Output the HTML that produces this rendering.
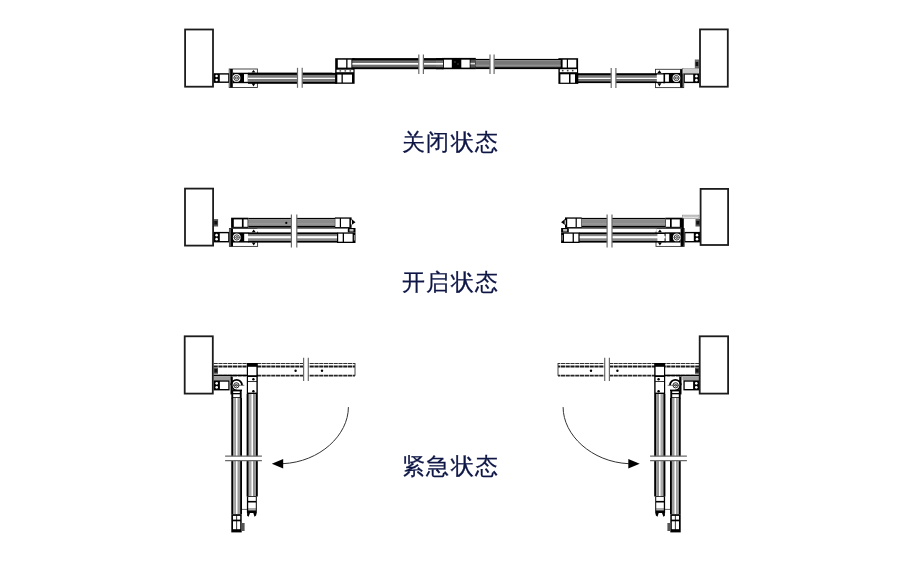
<!DOCTYPE html>
<html><head><meta charset="utf-8"><style>
html,body{margin:0;padding:0;background:#fff;width:900px;height:563px;overflow:hidden}
svg{position:absolute;left:0;top:0}
.t{position:absolute;font-family:"Liberation Sans",sans-serif;font-size:23px;letter-spacing:1.4px;color:#0e1646;white-space:nowrap;line-height:1;will-change:transform;-webkit-text-stroke:0.25px #0e1646}
</style></head><body>
<svg width="900" height="563" viewBox="0 0 900 563">
<rect x="213.50" y="73.20" width="16.00" height="9.70" fill="#000" />
<rect x="219.80" y="74.60" width="8.40" height="6.90" fill="#fff" />
<circle cx="216.60" cy="76.05" r="1.30" fill="#fff" stroke="none" stroke-width="1"/>
<circle cx="216.60" cy="80.05" r="1.30" fill="#fff" stroke="none" stroke-width="1"/>
<rect x="229.20" y="69.00" width="28.20" height="18.50" fill="#fff" stroke="#333" stroke-width="0.9" />
<rect x="230.10" y="69.00" width="2.70" height="18.50" fill="#000" />
<rect x="232.80" y="72.60" width="15.40" height="10.70" fill="#000" />
<rect x="233.60" y="70.30" width="19.60" height="2.00" fill="#fff" />
<rect x="233.60" y="83.60" width="19.60" height="2.90" fill="#fff" />
<circle cx="236.50" cy="77.95" r="3.90" fill="#fff" stroke="none" stroke-width="1"/>
<circle cx="236.50" cy="77.95" r="2.60" fill="none" stroke="#000" stroke-width="0.75"/>
<circle cx="236.50" cy="77.95" r="1.10" fill="none" stroke="#000" stroke-width="0.6"/>
<line x1="231.70" y1="77.95" x2="241.30" y2="77.95" stroke="#333" stroke-width="0.4" />
<rect x="244.00" y="74.10" width="3.80" height="7.70" fill="#fff" />
<path d="M251.5 72.6 L253.5 70.0 L255.5 72.6 Z" fill="#000" stroke="none" stroke-width="1" />
<path d="M251.5 83.3 L253.5 86.5 L255.5 83.3 Z" fill="#000" stroke="none" stroke-width="1" />
<rect x="248.00" y="72.60" width="89.00" height="11.20" fill="#000" />
<rect x="248.00" y="74.84" width="89.00" height="2.69" fill="#7c7c7c" />
<rect x="248.00" y="77.53" width="89.00" height="1.90" fill="#fff" />
<rect x="248.00" y="79.43" width="89.00" height="2.46" fill="#7c7c7c" />
<rect x="297.50" y="69.80" width="4.70" height="16.00" fill="#fff" />
<line x1="297.50" y1="67.80" x2="297.50" y2="87.80" stroke="#6a6a6a" stroke-width="1.2" />
<line x1="302.20" y1="67.80" x2="302.20" y2="87.80" stroke="#6a6a6a" stroke-width="1.2" />
<rect x="335.10" y="58.20" width="19.50" height="25.60" fill="#000" />
<rect x="337.80" y="59.70" width="8.40" height="7.90" fill="#fff" />
<rect x="347.50" y="59.70" width="3.90" height="7.90" fill="#fff" />
<rect x="336.60" y="69.70" width="16.80" height="2.50" fill="#fff" />
<rect x="339.50" y="70.20" width="1.60" height="1.40" fill="#444" />
<rect x="344.50" y="70.20" width="1.60" height="1.40" fill="#444" />
<rect x="349.50" y="70.20" width="1.60" height="1.40" fill="#444" />
<rect x="337.30" y="74.60" width="4.20" height="7.90" fill="#fff" />
<rect x="342.80" y="74.60" width="9.20" height="7.90" fill="#fff" />
<rect x="332.50" y="58.20" width="2.60" height="14.40" fill="#fff" />
<rect x="352.30" y="58.20" width="0.00" height="0.00" fill="#fff" />
<rect x="352.30" y="58.10" width="91.70" height="11.10" fill="#000" />
<rect x="352.30" y="60.32" width="91.70" height="2.66" fill="#6e6e6e" />
<rect x="352.30" y="62.98" width="91.70" height="1.89" fill="#fff" />
<rect x="352.30" y="64.87" width="91.70" height="2.44" fill="#6e6e6e" />
<rect x="418.80" y="56.40" width="4.60" height="15.60" fill="#fff" />
<line x1="418.80" y1="54.40" x2="418.80" y2="74.00" stroke="#6a6a6a" stroke-width="1.2" />
<line x1="423.40" y1="54.40" x2="423.40" y2="74.00" stroke="#6a6a6a" stroke-width="1.2" />
<rect x="442.20" y="57.90" width="33.60" height="11.30" fill="#000" />
<rect x="436.00" y="58.10" width="7.00" height="11.10" fill="#000" />
<rect x="436.00" y="60.32" width="7.00" height="2.66" fill="#777" />
<rect x="436.00" y="62.98" width="7.00" height="1.89" fill="#fff" />
<rect x="436.00" y="64.87" width="7.00" height="2.44" fill="#777" />
<rect x="443.90" y="59.70" width="7.90" height="7.90" fill="#fff" />
<rect x="461.30" y="59.70" width="8.40" height="7.90" fill="#fff" />
<rect x="454.50" y="61.50" width="1.00" height="1.00" fill="#888" />
<rect x="457.50" y="63.50" width="1.00" height="1.00" fill="#888" />
<rect x="470.50" y="59.70" width="4.50" height="7.90" fill="#555" />
<rect x="470.50" y="62.80" width="4.50" height="1.60" fill="#ddd" />
<g transform="matrix(-1,0,0,1,913,0)">
<rect x="213.50" y="73.20" width="16.00" height="9.90" fill="#000" />
<rect x="219.80" y="74.60" width="8.40" height="7.10" fill="#fff" />
<circle cx="216.60" cy="76.15" r="1.30" fill="#fff" stroke="none" stroke-width="1"/>
<circle cx="216.60" cy="80.15" r="1.30" fill="#fff" stroke="none" stroke-width="1"/>
<rect x="229.30" y="69.30" width="28.20" height="18.30" fill="#fff" stroke="#333" stroke-width="0.9" />
<rect x="230.20" y="69.30" width="2.70" height="18.30" fill="#000" />
<rect x="232.90" y="72.90" width="15.40" height="10.30" fill="#000" />
<rect x="233.70" y="70.60" width="19.60" height="2.00" fill="#fff" />
<rect x="233.70" y="83.50" width="19.60" height="3.10" fill="#fff" />
<circle cx="236.60" cy="78.05" r="3.90" fill="#fff" stroke="none" stroke-width="1"/>
<circle cx="236.60" cy="78.05" r="2.60" fill="none" stroke="#000" stroke-width="0.75"/>
<circle cx="236.60" cy="78.05" r="1.10" fill="none" stroke="#000" stroke-width="0.6"/>
<line x1="231.80" y1="78.05" x2="241.40" y2="78.05" stroke="#333" stroke-width="0.4" />
<rect x="244.10" y="74.40" width="3.80" height="7.30" fill="#fff" />
<path d="M251.60000000000002 72.9 L253.60000000000002 70.3 L255.60000000000002 72.9 Z" fill="#000" stroke="none" stroke-width="1" />
<path d="M251.60000000000002 83.2 L253.60000000000002 86.6 L255.60000000000002 83.2 Z" fill="#000" stroke="none" stroke-width="1" />
<rect x="248.00" y="73.20" width="89.00" height="9.90" fill="#000" />
<rect x="248.00" y="75.18" width="89.00" height="2.38" fill="#7c7c7c" />
<rect x="248.00" y="77.56" width="89.00" height="1.68" fill="#fff" />
<rect x="248.00" y="79.24" width="89.00" height="2.18" fill="#7c7c7c" />
<rect x="297.10" y="70.00" width="4.70" height="16.00" fill="#fff" />
<line x1="297.10" y1="68.00" x2="297.10" y2="88.00" stroke="#6a6a6a" stroke-width="1.2" />
<line x1="301.80" y1="68.00" x2="301.80" y2="88.00" stroke="#6a6a6a" stroke-width="1.2" />
<rect x="334.70" y="58.20" width="19.90" height="25.70" fill="#000" />
<rect x="336.70" y="59.70" width="8.30" height="7.80" fill="#fff" />
<rect x="346.20" y="59.70" width="4.20" height="7.80" fill="#fff" />
<rect x="336.00" y="69.20" width="17.20" height="3.00" fill="#fff" />
<rect x="339.50" y="69.80" width="1.60" height="1.60" fill="#444" />
<rect x="344.50" y="69.80" width="1.60" height="1.60" fill="#444" />
<rect x="349.50" y="69.80" width="1.60" height="1.60" fill="#444" />
<rect x="338.00" y="74.30" width="4.50" height="8.40" fill="#fff" />
<rect x="344.00" y="74.30" width="8.60" height="8.40" fill="#fff" />
<rect x="332.50" y="58.20" width="2.20" height="14.50" fill="#fff" />
<rect x="352.30" y="58.90" width="85.20" height="10.20" fill="#000" />
<rect x="352.30" y="60.33" width="85.20" height="6.94" fill="#777" />
<rect x="352.30" y="60.33" width="85.20" height="0.71" fill="#aaa" />
<rect x="352.30" y="64.82" width="85.20" height="0.71" fill="#a8a8a8" />
<rect x="418.90" y="56.40" width="4.10" height="15.60" fill="#fff" />
<line x1="418.90" y1="54.40" x2="418.90" y2="74.00" stroke="#6a6a6a" stroke-width="1.2" />
<line x1="423.00" y1="54.40" x2="423.00" y2="74.00" stroke="#6a6a6a" stroke-width="1.2" />
</g>
<rect x="682.70" y="68.70" width="16.60" height="4.50" fill="#e2e2e2" stroke="#777" stroke-width="0.5" />
<line x1="683.50" y1="69.80" x2="698.50" y2="69.80" stroke="#999" stroke-width="0.4" />
<line x1="683.50" y1="71.00" x2="698.50" y2="71.00" stroke="#999" stroke-width="0.4" />
<line x1="683.50" y1="72.20" x2="698.50" y2="72.20" stroke="#999" stroke-width="0.4" />
<rect x="663.00" y="73.00" width="2.00" height="10.20" fill="#000" />
<rect x="656.80" y="74.50" width="6.70" height="7.20" fill="#fff" />
<rect x="694.80" y="59.50" width="4.20" height="8.80" fill="#666" />
<rect x="695.60" y="62.00" width="2.60" height="4.00" fill="#111" />
<rect x="213.50" y="219.10" width="4.60" height="7.40" fill="#555" />
<rect x="214.30" y="221.00" width="3.00" height="3.50" fill="#111" />
<rect x="213.50" y="231.90" width="16.00" height="10.50" fill="#000" />
<rect x="219.80" y="233.30" width="8.40" height="7.70" fill="#fff" />
<circle cx="216.60" cy="235.15" r="1.30" fill="#fff" stroke="none" stroke-width="1"/>
<circle cx="216.60" cy="239.15" r="1.30" fill="#fff" stroke="none" stroke-width="1"/>
<rect x="229.40" y="228.50" width="28.20" height="17.90" fill="#fff" stroke="#333" stroke-width="0.9" />
<rect x="230.30" y="228.50" width="2.70" height="17.90" fill="#000" />
<rect x="233.00" y="232.30" width="15.40" height="10.30" fill="#000" />
<rect x="233.80" y="229.80" width="19.60" height="2.20" fill="#fff" />
<rect x="233.80" y="242.90" width="19.60" height="2.50" fill="#fff" />
<circle cx="236.80" cy="237.45" r="3.90" fill="#fff" stroke="none" stroke-width="1"/>
<circle cx="236.80" cy="237.45" r="2.60" fill="none" stroke="#000" stroke-width="0.75"/>
<circle cx="236.80" cy="237.45" r="1.10" fill="none" stroke="#000" stroke-width="0.6"/>
<line x1="232.00" y1="237.45" x2="241.60" y2="237.45" stroke="#333" stroke-width="0.4" />
<rect x="244.20" y="233.80" width="3.80" height="7.30" fill="#fff" />
<path d="M251.70000000000002 232.3 L253.70000000000002 229.5 L255.70000000000002 232.3 Z" fill="#000" stroke="none" stroke-width="1" />
<path d="M251.70000000000002 242.6 L253.70000000000002 245.4 L255.70000000000002 242.6 Z" fill="#000" stroke="none" stroke-width="1" />
<rect x="248.00" y="232.40" width="89.50" height="10.20" fill="#000" />
<rect x="248.00" y="234.13" width="89.50" height="1.94" fill="#8a8a8a" />
<rect x="248.00" y="236.07" width="89.50" height="2.65" fill="#fff" />
<rect x="248.00" y="238.72" width="89.50" height="2.24" fill="#8a8a8a" />
<rect x="337.00" y="232.40" width="18.50" height="10.60" fill="#000" />
<rect x="338.20" y="233.70" width="4.50" height="8.00" fill="#fff" />
<rect x="344.00" y="233.70" width="8.60" height="8.00" fill="#fff" />
<rect x="353.90" y="235.00" width="1.00" height="5.50" fill="#999" />
<rect x="257.00" y="228.20" width="90.80" height="3.40" fill="#fff" />
<line x1="257.00" y1="228.40" x2="347.80" y2="228.40" stroke="#222" stroke-width="0.7" />
<rect x="347.80" y="228.00" width="7.70" height="4.40" fill="#000" />
<rect x="349.50" y="229.00" width="4.00" height="2.50" fill="#bbb" />
<rect x="231.10" y="217.70" width="17.20" height="10.20" fill="#000" />
<rect x="233.80" y="219.40" width="8.10" height="7.40" fill="#fff" />
<rect x="243.60" y="219.40" width="4.00" height="7.40" fill="#fff" />
<rect x="248.30" y="217.90" width="87.20" height="9.80" fill="#000" />
<rect x="248.30" y="219.27" width="87.20" height="6.66" fill="#8c8c8c" />
<rect x="248.30" y="219.27" width="87.20" height="0.69" fill="#aaa" />
<rect x="248.30" y="223.58" width="87.20" height="0.69" fill="#a8a8a8" />
<circle cx="286.30" cy="222.90" r="1.10" fill="#000" stroke="none" stroke-width="1"/>
<rect x="334.90" y="217.40" width="16.70" height="10.50" fill="#000" />
<rect x="335.30" y="218.70" width="4.50" height="8.30" fill="#fff" />
<rect x="341.00" y="218.70" width="8.40" height="8.30" fill="#fff" />
<path d="M351.6 219.0 L355.5 222.2 L351.6 225.0 Z" fill="#000" stroke="none" stroke-width="1" />
<rect x="350.90" y="220.20" width="1.00" height="4.30" fill="#fff" />
<rect x="291.40" y="216.60" width="5.40" height="28.80" fill="#fff" />
<line x1="291.40" y1="214.60" x2="291.40" y2="247.40" stroke="#6a6a6a" stroke-width="1.2" />
<line x1="296.80" y1="214.60" x2="296.80" y2="247.40" stroke="#6a6a6a" stroke-width="1.2" />
<g transform="matrix(-1,0,0,1,913.6,0)">
<rect x="213.50" y="219.10" width="4.60" height="7.40" fill="#555" />
<rect x="214.30" y="221.00" width="3.00" height="3.50" fill="#111" />
<rect x="213.50" y="231.90" width="16.00" height="10.50" fill="#000" />
<rect x="219.80" y="233.30" width="8.40" height="7.70" fill="#fff" />
<circle cx="216.60" cy="235.15" r="1.30" fill="#fff" stroke="none" stroke-width="1"/>
<circle cx="216.60" cy="239.15" r="1.30" fill="#fff" stroke="none" stroke-width="1"/>
<rect x="229.40" y="228.50" width="28.20" height="17.90" fill="#fff" stroke="#333" stroke-width="0.9" />
<rect x="230.30" y="228.50" width="2.70" height="17.90" fill="#000" />
<rect x="233.00" y="232.30" width="15.40" height="10.30" fill="#000" />
<rect x="233.80" y="229.80" width="19.60" height="2.20" fill="#fff" />
<rect x="233.80" y="242.90" width="19.60" height="2.50" fill="#fff" />
<circle cx="236.80" cy="237.45" r="3.90" fill="#fff" stroke="none" stroke-width="1"/>
<circle cx="236.80" cy="237.45" r="2.60" fill="none" stroke="#000" stroke-width="0.75"/>
<circle cx="236.80" cy="237.45" r="1.10" fill="none" stroke="#000" stroke-width="0.6"/>
<line x1="232.00" y1="237.45" x2="241.60" y2="237.45" stroke="#333" stroke-width="0.4" />
<rect x="244.20" y="233.80" width="3.80" height="7.30" fill="#fff" />
<path d="M251.70000000000002 232.3 L253.70000000000002 229.5 L255.70000000000002 232.3 Z" fill="#000" stroke="none" stroke-width="1" />
<path d="M251.70000000000002 242.6 L253.70000000000002 245.4 L255.70000000000002 242.6 Z" fill="#000" stroke="none" stroke-width="1" />
<rect x="248.00" y="232.40" width="86.50" height="10.20" fill="#000" />
<rect x="248.00" y="234.13" width="86.50" height="1.94" fill="#8a8a8a" />
<rect x="248.00" y="236.07" width="86.50" height="2.65" fill="#fff" />
<rect x="248.00" y="238.72" width="86.50" height="2.24" fill="#8a8a8a" />
<rect x="334.00" y="232.40" width="18.50" height="10.60" fill="#000" />
<rect x="335.20" y="233.70" width="4.50" height="8.00" fill="#fff" />
<rect x="341.00" y="233.70" width="8.60" height="8.00" fill="#fff" />
<rect x="350.90" y="235.00" width="1.00" height="5.50" fill="#999" />
<rect x="257.00" y="228.20" width="87.80" height="3.40" fill="#fff" />
<line x1="257.00" y1="228.40" x2="344.80" y2="228.40" stroke="#222" stroke-width="0.7" />
<rect x="344.80" y="228.00" width="7.70" height="4.40" fill="#000" />
<rect x="346.50" y="229.00" width="4.00" height="2.50" fill="#bbb" />
<rect x="231.10" y="217.70" width="17.20" height="10.20" fill="#000" />
<rect x="233.80" y="219.40" width="8.10" height="7.40" fill="#fff" />
<rect x="243.60" y="219.40" width="4.00" height="7.40" fill="#fff" />
<rect x="248.30" y="217.90" width="84.20" height="9.80" fill="#000" />
<rect x="248.30" y="219.27" width="84.20" height="6.66" fill="#8c8c8c" />
<rect x="248.30" y="219.27" width="84.20" height="0.69" fill="#aaa" />
<rect x="248.30" y="223.58" width="84.20" height="0.69" fill="#a8a8a8" />
<rect x="249.50" y="234.00" width="6.70" height="7.00" fill="#fff" />
<rect x="331.90" y="217.40" width="16.70" height="10.50" fill="#000" />
<rect x="332.30" y="218.70" width="4.50" height="8.30" fill="#fff" />
<rect x="338.00" y="218.70" width="8.40" height="8.30" fill="#fff" />
<path d="M348.6 219.0 L352.5 222.2 L348.6 225.0 Z" fill="#000" stroke="none" stroke-width="1" />
<rect x="347.90" y="220.20" width="1.00" height="4.30" fill="#fff" />
<rect x="301.60" y="216.60" width="4.90" height="28.80" fill="#fff" />
<line x1="301.60" y1="214.60" x2="301.60" y2="247.40" stroke="#6a6a6a" stroke-width="1.2" />
<line x1="306.50" y1="214.60" x2="306.50" y2="247.40" stroke="#6a6a6a" stroke-width="1.2" />
</g>
<rect x="682.40" y="215.10" width="16.60" height="3.30" fill="#e0e0e0" stroke="#777" stroke-width="0.5" />
<line x1="683.50" y1="216.50" x2="698.00" y2="216.50" stroke="#999" stroke-width="0.4" />
<rect x="682.00" y="218.40" width="1.80" height="27.40" fill="#000" />
<rect x="213.60" y="363.00" width="141.40" height="12.80" fill="#fff" />
<line x1="213.60" y1="363.50" x2="355.00" y2="363.50" stroke="#333" stroke-width="1.1" stroke-dasharray="4.2 0.6"/>
<line x1="213.60" y1="366.40" x2="355.00" y2="366.40" stroke="#1a1a1a" stroke-width="2.0" stroke-dasharray="4.2 0.6"/>
<line x1="213.60" y1="375.60" x2="355.00" y2="375.60" stroke="#262626" stroke-width="1.7" stroke-dasharray="4.2 0.6"/>
<line x1="213.60" y1="375.40" x2="258.00" y2="375.40" stroke="#000" stroke-width="1.3" />
<line x1="355.00" y1="363.00" x2="355.00" y2="375.80" stroke="#333" stroke-width="0.9" />
<circle cx="295.60" cy="370.80" r="1.20" fill="#000" stroke="none" stroke-width="1"/>
<circle cx="322.00" cy="370.80" r="1.20" fill="#000" stroke="none" stroke-width="1"/>
<rect x="303.60" y="359.80" width="4.70" height="19.30" fill="#fff" />
<line x1="303.60" y1="357.80" x2="303.60" y2="381.10" stroke="#6a6a6a" stroke-width="1.2" />
<line x1="308.30" y1="357.80" x2="308.30" y2="381.10" stroke="#6a6a6a" stroke-width="1.2" />
<rect x="213.60" y="367.80" width="4.40" height="6.00" fill="#555" />
<rect x="214.40" y="369.00" width="2.90" height="3.50" fill="#111" />
<rect x="213.60" y="376.00" width="16.90" height="4.30" fill="#b0b0b0" />
<line x1="213.60" y1="377.00" x2="230.50" y2="377.00" stroke="#777" stroke-width="0.4" />
<line x1="213.60" y1="378.20" x2="230.50" y2="378.20" stroke="#777" stroke-width="0.4" />
<line x1="213.60" y1="379.40" x2="230.50" y2="379.40" stroke="#777" stroke-width="0.4" />
<rect x="213.60" y="380.30" width="16.00" height="10.10" fill="#000" />
<rect x="219.90" y="381.70" width="8.40" height="7.30" fill="#fff" />
<circle cx="216.70" cy="383.35" r="1.30" fill="#fff" stroke="none" stroke-width="1"/>
<circle cx="216.70" cy="387.35" r="1.30" fill="#fff" stroke="none" stroke-width="1"/>
<g transform="translate(0,0)">
<rect x="246.80" y="363.00" width="11.00" height="31.00" fill="#000" />
<rect x="248.00" y="366.80" width="8.40" height="8.40" fill="#fff" />
<rect x="248.00" y="377.00" width="8.40" height="4.00" fill="#fff" />
<rect x="248.00" y="381.80" width="8.40" height="10.80" fill="#fff" />
<circle cx="253.40" cy="379.30" r="1.20" fill="#000" stroke="none" stroke-width="1"/>
<circle cx="253.40" cy="391.20" r="1.20" fill="#000" stroke="none" stroke-width="1"/>
<rect x="246.60" y="394.00" width="11.20" height="102.50" fill="#000" />
<rect x="248.50" y="394.00" width="2.69" height="102.50" fill="#a9a9a9" />
<rect x="251.19" y="394.00" width="2.24" height="102.50" fill="#fff" />
<rect x="253.43" y="394.00" width="2.46" height="102.50" fill="#a9a9a9" />
<rect x="254.33" y="394.00" width="0.67" height="102.50" fill="#888" />
<rect x="246.90" y="496.30" width="9.90" height="16.70" fill="#000" />
<rect x="248.20" y="497.00" width="7.60" height="3.90" fill="#fff" />
<rect x="248.20" y="502.50" width="7.60" height="5.50" fill="#fff" />
<rect x="248.20" y="508.00" width="7.60" height="2.50" fill="#aaa" />
<path d="M247.1 513 L247.1 515.8 L248.6 516.7 L250 513 L253.3 513 L254.5 516.7 L256.1 515.6 L256.7 513 Z" fill="#000" stroke="none" stroke-width="1" />
<line x1="241.70" y1="509.40" x2="247.00" y2="509.40" stroke="#222" stroke-width="0.7" />
<rect x="230.50" y="376.50" width="2.30" height="17.90" fill="#000" />
<rect x="232.80" y="389.60" width="9.20" height="1.40" fill="#000" />
<path d="M231.2 385.3 A 5.3 5.3 0 0 1 242.0 385.3" fill="none" stroke="#000" stroke-width="1.8" />
<path d="M232.6 386 A 5 5 0 0 0 237 390.6" fill="none" stroke="#000" stroke-width="1.6" />
<circle cx="236.40" cy="385.30" r="3.70" fill="#fff" stroke="none" stroke-width="1"/>
<circle cx="236.40" cy="385.30" r="2.60" fill="none" stroke="#000" stroke-width="0.85"/>
<circle cx="236.40" cy="385.30" r="1.00" fill="none" stroke="#000" stroke-width="0.7"/>
<line x1="231.50" y1="385.30" x2="244.30" y2="385.30" stroke="#222" stroke-width="0.6" />
<rect x="231.30" y="390.20" width="10.40" height="8.30" fill="#000" />
<rect x="233.20" y="391.40" width="6.60" height="1.60" fill="#fff" />
<rect x="233.20" y="394.30" width="6.60" height="2.90" fill="#fff" />
<rect x="231.30" y="398.00" width="10.70" height="116.20" fill="#000" />
<rect x="233.12" y="398.00" width="2.57" height="116.20" fill="#a9a9a9" />
<rect x="235.69" y="398.00" width="2.14" height="116.20" fill="#fff" />
<rect x="237.83" y="398.00" width="2.35" height="116.20" fill="#a9a9a9" />
<rect x="238.68" y="398.00" width="0.64" height="116.20" fill="#888" />
<rect x="231.30" y="514.20" width="10.40" height="18.20" fill="#000" />
<rect x="233.00" y="515.90" width="3.30" height="3.70" fill="#fff" />
<rect x="237.10" y="515.90" width="3.10" height="3.70" fill="#fff" />
<rect x="233.00" y="521.30" width="3.30" height="7.90" fill="#fff" />
<rect x="237.10" y="521.30" width="3.10" height="7.90" fill="#fff" />
<rect x="241.70" y="523.00" width="2.90" height="8.00" fill="#555" />
</g>
<rect x="227.10" y="456.20" width="32.80" height="4.50" fill="#fff" />
<line x1="225.10" y1="456.20" x2="261.90" y2="456.20" stroke="#6a6a6a" stroke-width="1.2" />
<line x1="225.10" y1="460.70" x2="261.90" y2="460.70" stroke="#6a6a6a" stroke-width="1.2" />
<g transform="translate(0,0)">
<path d="M348.4 407.1 C 348.4 435, 320 462, 282.7 463.7" fill="none" stroke="#333" stroke-width="1.0" />
<path d="M271.8 463.7 L283.2 459.0 L283.2 468.4 Z" fill="#000" stroke="none" stroke-width="1" />
</g>
<g transform="matrix(-1,0,0,1,913,0)">
<rect x="213.60" y="363.00" width="141.40" height="12.80" fill="#fff" />
<line x1="213.60" y1="363.50" x2="355.00" y2="363.50" stroke="#333" stroke-width="1.1" stroke-dasharray="4.2 0.6"/>
<line x1="213.60" y1="366.40" x2="355.00" y2="366.40" stroke="#1a1a1a" stroke-width="2.0" stroke-dasharray="4.2 0.6"/>
<line x1="213.60" y1="375.60" x2="355.00" y2="375.60" stroke="#262626" stroke-width="1.7" stroke-dasharray="4.2 0.6"/>
<line x1="213.60" y1="375.40" x2="258.00" y2="375.40" stroke="#000" stroke-width="1.3" />
<line x1="355.00" y1="363.00" x2="355.00" y2="375.80" stroke="#333" stroke-width="0.9" />
<circle cx="295.60" cy="370.80" r="1.20" fill="#000" stroke="none" stroke-width="1"/>
<circle cx="322.00" cy="370.80" r="1.20" fill="#000" stroke="none" stroke-width="1"/>
<rect x="303.60" y="359.80" width="4.70" height="19.30" fill="#fff" />
<line x1="303.60" y1="357.80" x2="303.60" y2="381.10" stroke="#6a6a6a" stroke-width="1.2" />
<line x1="308.30" y1="357.80" x2="308.30" y2="381.10" stroke="#6a6a6a" stroke-width="1.2" />
<rect x="213.60" y="367.80" width="4.40" height="6.00" fill="#555" />
<rect x="214.40" y="369.00" width="2.90" height="3.50" fill="#111" />
<rect x="213.60" y="376.00" width="16.90" height="4.30" fill="#b0b0b0" />
<line x1="213.60" y1="377.00" x2="230.50" y2="377.00" stroke="#777" stroke-width="0.4" />
<line x1="213.60" y1="378.20" x2="230.50" y2="378.20" stroke="#777" stroke-width="0.4" />
<line x1="213.60" y1="379.40" x2="230.50" y2="379.40" stroke="#777" stroke-width="0.4" />
<rect x="213.60" y="380.30" width="16.00" height="10.10" fill="#000" />
<rect x="219.90" y="381.70" width="8.40" height="7.30" fill="#fff" />
<circle cx="216.70" cy="383.35" r="1.30" fill="#fff" stroke="none" stroke-width="1"/>
<circle cx="216.70" cy="387.35" r="1.30" fill="#fff" stroke="none" stroke-width="1"/>
<g transform="translate(1,0)">
<rect x="246.80" y="363.00" width="11.00" height="31.00" fill="#000" />
<rect x="248.00" y="366.80" width="8.40" height="8.40" fill="#fff" />
<rect x="248.00" y="377.00" width="8.40" height="4.00" fill="#fff" />
<rect x="248.00" y="381.80" width="8.40" height="10.80" fill="#fff" />
<circle cx="253.40" cy="379.30" r="1.20" fill="#000" stroke="none" stroke-width="1"/>
<circle cx="253.40" cy="391.20" r="1.20" fill="#000" stroke="none" stroke-width="1"/>
<rect x="246.60" y="394.00" width="11.20" height="102.50" fill="#000" />
<rect x="248.50" y="394.00" width="2.69" height="102.50" fill="#a9a9a9" />
<rect x="251.19" y="394.00" width="2.24" height="102.50" fill="#fff" />
<rect x="253.43" y="394.00" width="2.46" height="102.50" fill="#a9a9a9" />
<rect x="254.33" y="394.00" width="0.67" height="102.50" fill="#888" />
<rect x="246.90" y="496.30" width="9.90" height="16.70" fill="#000" />
<rect x="248.20" y="497.00" width="7.60" height="3.90" fill="#fff" />
<rect x="248.20" y="502.50" width="7.60" height="5.50" fill="#fff" />
<rect x="248.20" y="508.00" width="7.60" height="2.50" fill="#aaa" />
<path d="M247.1 513 L247.1 515.8 L248.6 516.7 L250 513 L253.3 513 L254.5 516.7 L256.1 515.6 L256.7 513 Z" fill="#000" stroke="none" stroke-width="1" />
<line x1="241.70" y1="509.40" x2="247.00" y2="509.40" stroke="#222" stroke-width="0.7" />
<rect x="230.50" y="376.50" width="2.30" height="17.90" fill="#000" />
<rect x="232.80" y="389.60" width="9.20" height="1.40" fill="#000" />
<path d="M231.2 385.3 A 5.3 5.3 0 0 1 242.0 385.3" fill="none" stroke="#000" stroke-width="1.8" />
<path d="M232.6 386 A 5 5 0 0 0 237 390.6" fill="none" stroke="#000" stroke-width="1.6" />
<circle cx="236.40" cy="385.30" r="3.70" fill="#fff" stroke="none" stroke-width="1"/>
<circle cx="236.40" cy="385.30" r="2.60" fill="none" stroke="#000" stroke-width="0.85"/>
<circle cx="236.40" cy="385.30" r="1.00" fill="none" stroke="#000" stroke-width="0.7"/>
<line x1="231.50" y1="385.30" x2="244.30" y2="385.30" stroke="#222" stroke-width="0.6" />
<rect x="231.30" y="390.20" width="10.40" height="8.30" fill="#000" />
<rect x="233.20" y="391.40" width="6.60" height="1.60" fill="#fff" />
<rect x="233.20" y="394.30" width="6.60" height="2.90" fill="#fff" />
<rect x="231.30" y="398.00" width="10.70" height="116.20" fill="#000" />
<rect x="233.12" y="398.00" width="2.57" height="116.20" fill="#a9a9a9" />
<rect x="235.69" y="398.00" width="2.14" height="116.20" fill="#fff" />
<rect x="237.83" y="398.00" width="2.35" height="116.20" fill="#a9a9a9" />
<rect x="238.68" y="398.00" width="0.64" height="116.20" fill="#888" />
<rect x="231.30" y="514.20" width="10.40" height="18.20" fill="#000" />
<rect x="233.00" y="515.90" width="3.30" height="3.70" fill="#fff" />
<rect x="237.10" y="515.90" width="3.10" height="3.70" fill="#fff" />
<rect x="233.00" y="521.30" width="3.30" height="7.90" fill="#fff" />
<rect x="237.10" y="521.30" width="3.10" height="7.90" fill="#fff" />
<rect x="241.70" y="523.00" width="2.90" height="8.00" fill="#555" />
</g>
<rect x="228.10" y="456.20" width="32.80" height="4.50" fill="#fff" />
<line x1="226.10" y1="456.20" x2="262.90" y2="456.20" stroke="#6a6a6a" stroke-width="1.2" />
<line x1="226.10" y1="460.70" x2="262.90" y2="460.70" stroke="#6a6a6a" stroke-width="1.2" />
<g transform="translate(1.5,0)">
<path d="M348.4 407.1 C 348.4 435, 320 462, 282.7 463.7" fill="none" stroke="#333" stroke-width="1.0" />
<path d="M271.8 463.7 L283.2 459.0 L283.2 468.4 Z" fill="#000" stroke="none" stroke-width="1" />
</g>
</g>
<rect x="185.10" y="29.50" width="27.90" height="57.20" fill="#fff" stroke="#1c1c1c" stroke-width="1.8" />
<rect x="700.00" y="29.40" width="27.80" height="57.30" fill="#fff" stroke="#1c1c1c" stroke-width="1.8" />
<rect x="185.00" y="188.60" width="28.10" height="57.00" fill="#fff" stroke="#1c1c1c" stroke-width="1.8" />
<rect x="700.60" y="188.90" width="27.50" height="56.10" fill="#fff" stroke="#1c1c1c" stroke-width="1.8" />
<rect x="184.70" y="336.30" width="28.10" height="57.30" fill="#fff" stroke="#1c1c1c" stroke-width="1.8" />
<rect x="699.70" y="336.30" width="28.40" height="57.30" fill="#fff" stroke="#1c1c1c" stroke-width="1.8" />
</svg>
<div class="t" style="left:402px;top:130.8px">关闭状态</div>
<div class="t" style="left:402.2px;top:270.8px">开启状态</div>
<div class="t" style="left:402px;top:454.6px">紧急状态</div>
</body></html>
